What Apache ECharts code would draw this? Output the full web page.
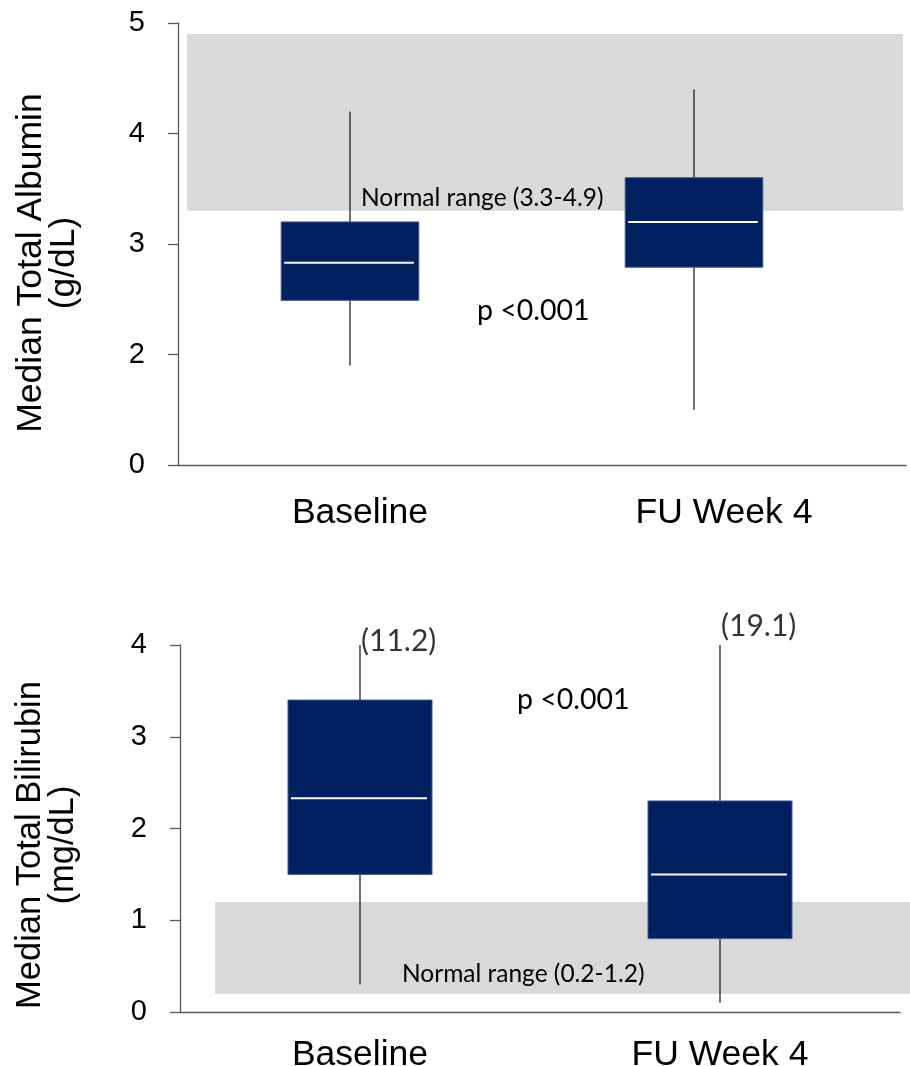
<!DOCTYPE html>
<html>
<head>
<meta charset="utf-8">
<script src="https://cdn.jsdelivr.net/npm/echarts@6/dist/echarts.min.js"></script>
<style>
  html, body { margin: 0; padding: 0; background: #ffffff; }
  #chart { width: 910px; height: 1066px; }
</style>
</head>
<body>
<div id="chart"></div>
<script>
// Groups on the x axis
const categories = ['Baseline', 'FU Week 4'];

// Total albumin (g/dL): whisker low, Q1, median, Q3, whisker high
const albuminLow = [1.9, 1.5];
const albuminQ1 = [2.49, 2.79];
const albuminMedian = [2.83, 3.2];
const albuminQ3 = [3.2, 3.6];
const albuminHigh = [4.2, 4.4];
const albuminNormalRange = [3.3, 4.9];
// Albumin axis runs 1..5, with its floor labelled 0 (broken axis)
const albuminAxisValues = [1, 2, 3, 4, 5];
const albuminTickLabels = ['0', '2', '3', '4', '5'];

// Total bilirubin (mg/dL)
const bilirubinLow = [0.3, 0.1];
const bilirubinQ1 = [1.5, 0.8];
const bilirubinMedian = [2.33, 1.5];
const bilirubinQ3 = [3.4, 2.3];
const bilirubinHigh = [11.2, 19.1];
const bilirubinNormalRange = [0.2, 1.2];
const bilirubinAxisMax = 4;

const pValue = 'p <0.001';

const AXIS_COLOR = '#595959';
const BOX_FILL = '#002060';
const ARIAL = "'Liberation Sans', Arial, sans-serif";
const CALIBRI = "Lato, 'Open Sans', sans-serif";

// Box, whiskers and median drawn from the axis scales
function renderBox(params, api) {
  const i = api.value(0);
  const low = api.coord([i, api.value(1)]);
  const q1 = api.coord([i, api.value(2)]);
  const med = api.coord([i, api.value(3)]);
  const q3 = api.coord([i, api.value(4)]);
  const high = api.coord([i, api.value(5)]);
  const bw = api.size([1, 0])[0] * 0.4;
  const cx = low[0];
  const x0 = cx - bw / 2;
  const whisker = { stroke: '#111111', lineWidth: 1.2 };
  return {
    type: 'group',
    children: [
      { type: 'line', shape: { x1: cx, y1: high[1], x2: cx, y2: q3[1] }, style: whisker },
      { type: 'line', shape: { x1: cx, y1: q1[1], x2: cx, y2: low[1] }, style: whisker },
      { type: 'rect', shape: { x: x0, y: q3[1], width: bw, height: q1[1] - q3[1] },
        style: { fill: BOX_FILL, stroke: '#3d5a92', lineWidth: 1 } },
      { type: 'line', shape: { x1: x0 + 3, y1: med[1], x2: x0 + bw - 5, y2: med[1] },
        style: { stroke: '#ffffff', lineWidth: 2 } }
    ]
  };
}

// Shaded reference band spanning the full width of its grid
function renderBand(params, api) {
  const p0 = api.coord([api.value(0), api.value(3)]);
  const p1 = api.coord([api.value(1), api.value(2)]);
  return {
    type: 'rect',
    shape: { x: p0[0], y: p0[1], width: p1[0] - p0[0], height: p1[1] - p0[1] },
    style: { fill: '#d9d9d9' }
  };
}

function boxData(low, q1, med, q3, high, cap) {
  return categories.map((c, i) => [i, low[i], q1[i], med[i], q3[i], Math.min(high[i], cap)]);
}

const hiddenValueAxis = (grid, min, max) => ({
  type: 'value', gridIndex: grid, min: min, max: max, show: false
});

const yTick = { show: true, inside: false, length: 10, lineStyle: { color: AXIS_COLOR, width: 1.3 } };
const axisLine = { show: true, lineStyle: { color: AXIS_COLOR, width: 1.3 } };

const fixedGrid = (left, top, width, height) => ({
  left: left, top: top, width: width, height: height,
  containLabel: false, outerBoundsMode: 'none'
});

const option = {
  animation: false,
  backgroundColor: '#ffffff',
  grid: [
    fixedGrid(178, 23, 728, 442),   // 0: albumin axes
    fixedGrid(187, 23, 716, 442),   // 1: albumin band
    fixedGrid(178, 23, 688, 442),   // 2: albumin boxes
    fixedGrid(180, 645, 720, 367),  // 3: bilirubin axes + boxes
    fixedGrid(215, 645, 695, 367)   // 4: bilirubin band
  ],
  xAxis: [
    { type: 'category', gridIndex: 0, data: categories, boundaryGap: true,
      axisLine: axisLine, axisTick: { show: false },
      axisLabel: { fontSize: 35.5, fontFamily: ARIAL, color: '#000', margin: 30 } },
    hiddenValueAxis(1, 0, 1),
    { type: 'category', gridIndex: 2, data: categories, show: false },
    { type: 'category', gridIndex: 3, data: categories, boundaryGap: true,
      axisLine: axisLine, axisTick: { show: false },
      axisLabel: { fontSize: 35.5, fontFamily: ARIAL, color: '#000', margin: 25 } },
    hiddenValueAxis(4, 0, 1)
  ],
  yAxis: [
    { type: 'value', gridIndex: 0, min: albuminAxisValues[0],
      max: albuminAxisValues[albuminAxisValues.length - 1], interval: 1,
      axisLine: axisLine, axisTick: yTick, splitLine: { show: false },
      axisLabel: { fontSize: 29, fontFamily: ARIAL, color: '#000', margin: 33,
        formatter: v => albuminTickLabels[albuminAxisValues.indexOf(v)] },
      name: 'Median Total Albumin\n(g/dL)', nameLocation: 'middle', nameRotate: 90, nameGap: 97,
      nameTextStyle: { fontSize: 35.5, fontFamily: ARIAL, color: '#000', lineHeight: 33,
        padding: [0, 38, 0, 0] } },
    hiddenValueAxis(1, albuminAxisValues[0], albuminAxisValues[albuminAxisValues.length - 1]),
    hiddenValueAxis(2, albuminAxisValues[0], albuminAxisValues[albuminAxisValues.length - 1]),
    { type: 'value', gridIndex: 3, min: 0, max: bilirubinAxisMax, interval: 1,
      axisLine: axisLine, axisTick: yTick, splitLine: { show: false },
      axisLabel: { fontSize: 29, fontFamily: ARIAL, color: '#000', margin: 33 },
      name: 'Median Total Bilirubin\n(mg/dL)', nameLocation: 'middle', nameRotate: 90, nameGap: 100,
      nameTextStyle: { fontSize: 34.5, fontFamily: ARIAL, color: '#000', lineHeight: 33,
        padding: [0, 33, 0, 0] } },
    hiddenValueAxis(4, 0, bilirubinAxisMax)
  ],
  series: [
    { type: 'custom', name: 'Albumin normal range', xAxisIndex: 1, yAxisIndex: 1, z: 1,
      renderItem: renderBand, encode: { x: [0, 1], y: [2, 3] },
      data: [[0, 1, albuminNormalRange[0], albuminNormalRange[1]]] },
    { type: 'custom', name: 'Albumin', xAxisIndex: 2, yAxisIndex: 2, z: 3,
      renderItem: renderBox, encode: { x: 0, y: [1, 2, 3, 4, 5] },
      data: boxData(albuminLow, albuminQ1, albuminMedian, albuminQ3, albuminHigh, Infinity) },
    { type: 'custom', name: 'Bilirubin normal range', xAxisIndex: 4, yAxisIndex: 4, z: 1,
      renderItem: renderBand, encode: { x: [0, 1], y: [2, 3] },
      data: [[0, 1, bilirubinNormalRange[0], bilirubinNormalRange[1]]] },
    { type: 'custom', name: 'Bilirubin', xAxisIndex: 3, yAxisIndex: 3, z: 3,
      renderItem: renderBox, encode: { x: 0, y: [1, 2, 3, 4, 5] },
      data: boxData(bilirubinLow, bilirubinQ1, bilirubinMedian, bilirubinQ3, bilirubinHigh, bilirubinAxisMax) },
    // Off-scale whisker maxima, printed at the clipped whisker tips
    { type: 'scatter', name: 'Bilirubin max', xAxisIndex: 3, yAxisIndex: 3, z: 4,
      symbolSize: 0, silent: true,
      data: categories.map((c, i) => ({
        value: [i, Math.min(bilirubinHigh[i], bilirubinAxisMax)],
        label: { offset: i === 0 ? [1, -4] : [1, -19] }
      })),
      label: { show: true, position: 'right', distance: 0, align: 'left', verticalAlign: 'middle',
        fontSize: 30, fontFamily: CALIBRI, color: '#000000', textBorderWidth: 0,
        formatter: p => '(' + bilirubinHigh[p.dataIndex].toFixed(1) + ')' } }
  ],
  graphic: [
    { type: 'text', z: 100, x: 361, y: 198,
      style: { text: 'Normal range (' + albuminNormalRange.join('-') + ')', fontSize: 24.5,
        fontFamily: CALIBRI, fill: '#000', align: 'left', verticalAlign: 'middle' } },
    { type: 'text', z: 100, x: 477, y: 311,
      style: { text: pValue, fontSize: 28.5, fontFamily: CALIBRI, fill: '#000',
        align: 'left', verticalAlign: 'middle' } },
    { type: 'text', z: 100, x: 517, y: 700,
      style: { text: pValue, fontSize: 28.5, fontFamily: CALIBRI, fill: '#000',
        align: 'left', verticalAlign: 'middle' } },
    { type: 'text', z: 100, x: 402, y: 974,
      style: { text: 'Normal range (' + bilirubinNormalRange.join('-') + ')', fontSize: 24.5,
        fontFamily: CALIBRI, fill: '#000', align: 'left', verticalAlign: 'middle' } }
  ]
};

const chart = echarts.init(document.getElementById('chart'), null, { renderer: 'canvas' });
chart.setOption(option);
</script>
</body>
</html>
